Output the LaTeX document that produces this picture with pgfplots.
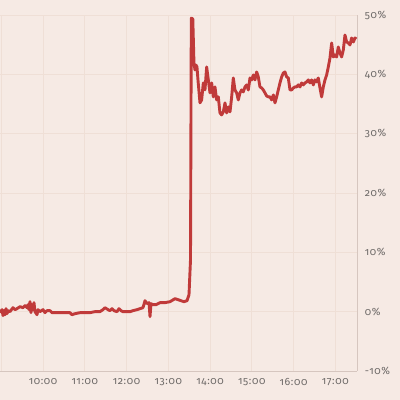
\documentclass[border=0pt]{standalone}
\usepackage{fontspec}
\setmainfont{Fira Sans}[Numbers=OldStyle, LetterSpace=6]
\usepackage{pgfplots}
\pgfplotsset{compat=1.18}
\definecolor{bg}{HTML}{F6EAE4}
\definecolor{gridc}{HTML}{EFDFD6}
\definecolor{axc}{HTML}{D6C6BF}
\definecolor{linec}{HTML}{C03A3A}
\definecolor{txt}{HTML}{6E6A68}
\begin{document}
\begin{tikzpicture}[x=1pt,y=1pt]
\useasboundingbox (0,0) rectangle (400,400);
\fill[bg] (0,0) rectangle (400,400);
\begin{axis}[
  scale only axis, width=357.3pt, height=356pt,
  at={(0pt,29pt)}, anchor=south west,
  xmin=8.969, xmax=17.527, ymin=-10, ymax=50,
  axis x line=bottom, axis y line=right,
  axis line style={-, draw=axc, line width=0.8pt},
  xtick={9,10,11,12,13,14,15,16,17},
  xticklabels={,10:00,11:00,12:00,13:00,14:00,15:00,16:00,17:00},
  ytick={-10,0,10,20,30,40,50},
  yticklabels={-10\%,0\%,10\%,20\%,30\%,40\%,50\%},
  major tick length=0pt,
  grid=major, grid style={draw=gridc, line width=0.6pt},
  tick label style={font=\fontsize{10.5}{12}\selectfont, text=txt},
  yticklabel style={anchor=west, xshift=4pt},
  xticklabel style={yshift=-4pt},
  clip=false,
]
\addplot[linec, line width=2.9pt, line join=round, mark=none] coordinates {
(8.969,-0.17)(9.017,0.34)(9.041,-0.67)(9.065,0.17)(9.089,-0.51)(9.113,0.51)(9.137,-0.34)(9.160,0.17)(9.208,0)(9.280,0.67)(9.328,0.34)(9.376,0.51)(9.448,0.84)(9.520,0.67)(9.568,1.01)(9.616,0.67)(9.640,1.18)(9.663,0.34)(9.687,1.68)(9.711,-0.17)(9.735,1.18)(9.759,0.34)(9.783,1.52)(9.807,0)(9.855,-0.51)(9.879,0.34)(9.927,0)(9.999,0.34)(10.047,-0.17)(10.095,0.17)(10.166,0.17)(10.214,-0.17)(10.286,-0.17)(10.406,-0.17)(10.526,-0.17)(10.645,-0.17)(10.693,-0.51)(10.765,-0.34)(10.885,-0.17)(11.005,-0.17)(11.124,-0.17)(11.244,0)(11.364,0)(11.436,0.34)(11.484,0.67)(11.556,0.34)(11.604,0.17)(11.652,0.51)(11.699,0.17)(11.771,0)(11.819,0.51)(11.867,0.17)(11.915,0)(12.011,0)(12.083,0)(12.155,0.17)(12.250,0.34)(12.322,0.51)(12.394,0.67)(12.442,1.85)(12.490,1.35)(12.538,1.52)(12.562,-0.84)(12.586,1.35)(12.634,1.18)(12.706,1.18)(12.801,1.52)(12.921,1.52)(13.041,1.68)(13.161,2.19)(13.232,2.02)(13.304,1.85)(13.376,1.68)(13.448,1.85)(13.496,2.86)(13.532,8.75)(13.551,49.49)(13.587,49.33)(13.615,41.92)(13.639,40.74)(13.663,41.58)(13.687,41.25)(13.711,39.06)(13.759,35.2)
(13.799,35.69)(13.839,38.55)(13.879,37.37)(13.919,41.25)(13.959,39.06)(13.999,36.87)(14.039,38.55)(14.078,36.20)(14.118,37.88)(14.158,35.69)(14.198,36.20)(14.238,33.50)(14.278,33.16)(14.318,33.67)(14.358,35.19)(14.398,33.50)(14.438,34.51)(14.478,33.67)(14.518,36.20)(14.557,39.39)(14.597,37.37)(14.637,36.87)(14.677,35.69)(14.717,36.87)(14.757,37.37)(14.797,37.04)(14.837,37.88)(14.877,38.22)(14.917,37.37)(14.957,39.39)(14.997,39.06)(15.037,39.90)(15.076,39.06)(15.116,40.40)(15.156,39.56)(15.196,37.88)(15.236,37.71)(15.276,37.37)(15.316,36.87)(15.356,36.36)(15.396,36.20)(15.436,36.20)(15.476,35.69)(15.516,36.53)(15.556,35.19)(15.595,36.20)(15.635,37.37)(15.675,38.55)(15.715,39.56)(15.755,40.24)(15.795,40.40)(15.835,39.56)(15.875,39.39)(15.915,37.37)(15.955,37.37)(15.995,37.71)(16.035,37.88)(16.074,37.88)(16.114,38.22)(16.154,37.88)(16.194,38.55)(16.234,38.22)(16.274,38.55)(16.314,38.72)(16.354,39.06)(16.394,38.55)(16.434,39.06)(16.474,38.22)(16.514,39.06)(16.553,38.72)(16.593,39.39)(16.633,37.71)(16.673,36.20)(16.713,37.88)(16.753,39.06)(16.793,39.90)(16.833,41.25)(16.873,42.76)(16.913,45.29)(16.953,42.93)(16.992,43.27)(17.032,42.93)(17.072,44.61)(17.112,43.60)(17.152,42.93)(17.192,44.11)(17.232,46.63)(17.272,45.45)(17.312,45.29)(17.352,44.95)(17.392,46.13)(17.432,45.45)(17.472,46.13)(17.505,45.96)
};
\end{axis}
\end{tikzpicture}
\end{document}
